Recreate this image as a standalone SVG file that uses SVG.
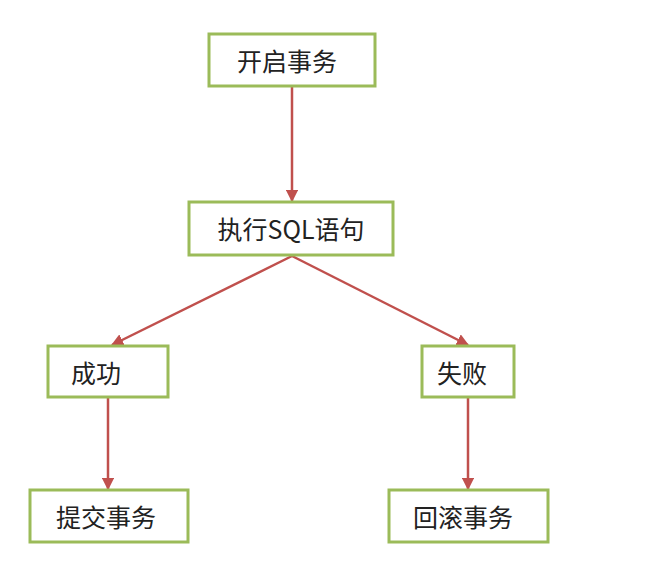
<svg xmlns="http://www.w3.org/2000/svg" width="668" height="562" viewBox="0 0 668 562">
<style>
.box{fill:#fff;stroke:#9BBB59;stroke-width:3}
.t{font-family:"Noto Sans CJK SC","Liberation Sans",sans-serif;font-size:25px;fill:#222;text-anchor:middle;dominant-baseline:central}
.c{stroke:#C0504D;stroke-width:2.5;fill:none;marker-end:url(#a)}
</style>
<defs><marker id="a" viewBox="0 0 10 10" refX="9" refY="5" markerWidth="5" markerHeight="5" orient="auto"><path d="M0,0L10,5L0,10z" fill="#C0504D"/></marker></defs>
<rect width="668" height="562" fill="#fff"/>
<g id="connectors">
<path class="c" d="M292,87V201"/>
<path class="c" d="M292,256L112,345"/>
<path class="c" d="M292,256L468,345"/>
<path class="c" d="M108,398V489"/>
<path class="c" d="M468,398V489"/>
</g>
<g id="n1"><rect class="box" x="209" y="34" width="166" height="52"/><text class="t" x="287" y="60">开启事务</text></g>
<g id="n2"><rect class="box" x="189" y="202" width="204" height="53"/><text class="t" x="291" y="228">执行SQL语句</text></g>
<g id="n3"><rect class="box" x="48" y="346" width="120" height="51"/><text class="t" x="96" y="372">成功</text></g>
<g id="n4"><rect class="box" x="422" y="346" width="92" height="51"/><text class="t" x="462" y="372">失败</text></g>
<g id="n5"><rect class="box" x="30" y="490" width="158" height="52"/><text class="t" x="106" y="516">提交事务</text></g>
<g id="n6"><rect class="box" x="389" y="490" width="159" height="52"/><text class="t" x="463" y="516">回滚事务</text></g>
</svg>
